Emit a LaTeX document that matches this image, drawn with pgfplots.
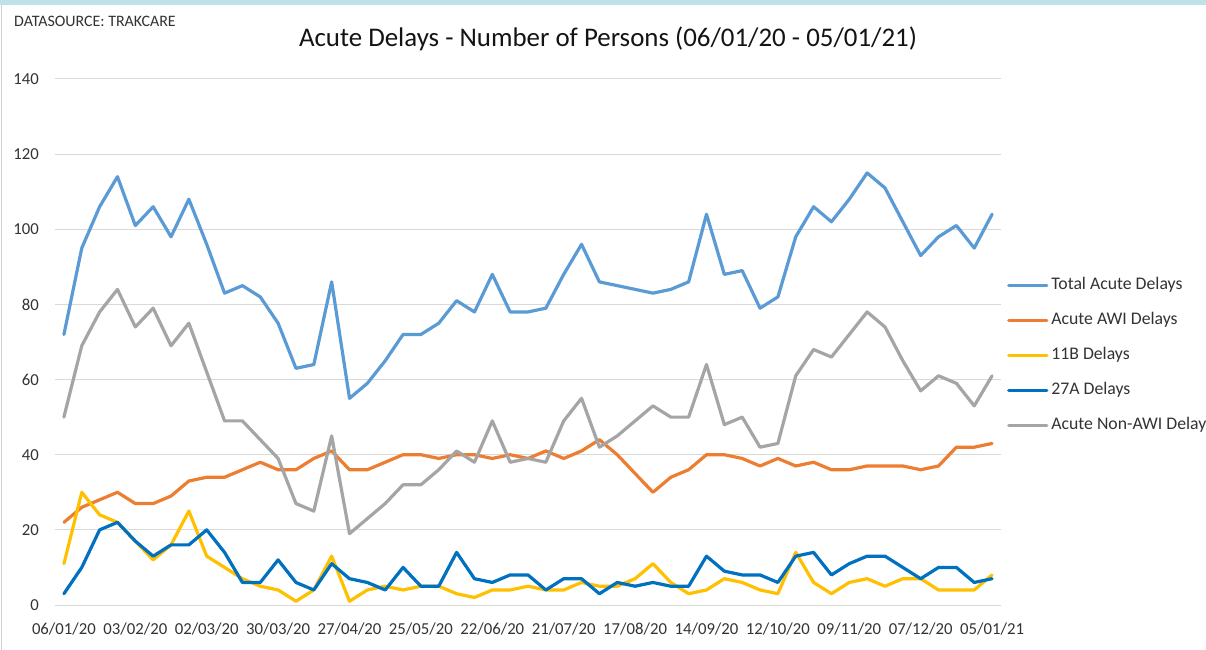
\documentclass[border=0pt]{standalone}
\usepackage{fontspec}
\setmainfont{Carlito}
\usepackage{pgfplots}
\pgfplotsset{compat=1.18}
\usepackage{pgfplotstable}

\definecolor{cTotal}{HTML}{5B9BD5}
\definecolor{cAWI}{HTML}{ED7D31}
\definecolor{cB}{HTML}{FFC000}
\definecolor{cA}{HTML}{0070C0}
\definecolor{cNon}{HTML}{A5A5A5}
\definecolor{gridgray}{HTML}{D9D9D9}
\definecolor{textdark}{HTML}{333333}
\definecolor{topstrip}{HTML}{BFE2E6}
\definecolor{bordergray}{HTML}{D0D0D0}

\pgfplotstableread{
i total awi b11 a27 nonawi
0 72 22 11 3 50
1 95 26 30 10 69
2 106 28 24 20 78
3 114 30 22 22 84
4 101 27 17 17 74
5 106 27 12 13 79
6 98 29 16 16 69
7 108 33 25 16 75
8 96 34 13 20 62
9 83 34 10 14 49
10 85 36 7 6 49
11 82 38 5 6 44
12 75 36 4 12 39
13 63 36 1 6 27
14 64 39 4 4 25
15 86 41 13 11 45
16 55 36 1 7 19
17 59 36 4 6 23
18 65 38 5 4 27
19 72 40 4 10 32
20 72 40 5 5 32
21 75 39 5 5 36
22 81 40 3 14 41
23 78 40 2 7 38
24 88 39 4 6 49
25 78 40 4 8 38
26 78 39 5 8 39
27 79 41 4 4 38
28 88 39 4 7 49
29 96 41 6 7 55
30 86 44 5 3 42
31 85 40 5 6 45
32 84 35 7 5 49
33 83 30 11 6 53
34 84 34 6 5 50
35 86 36 3 5 50
36 104 40 4 13 64
37 88 40 7 9 48
38 89 39 6 8 50
39 79 37 4 8 42
40 82 39 3 6 43
41 98 37 14 13 61
42 106 38 6 14 68
43 102 36 3 8 66
44 108 36 6 11 72
45 115 37 7 13 78
46 111 37 5 13 74
47 102 37 7 10 65
48 93 36 7 7 57
49 98 37 4 10 61
50 101 42 4 10 59
51 95 42 4 6 53
52 104 43 8 7 61
}\datatable

\begin{document}
\begin{tikzpicture}
\useasboundingbox (0bp,0bp) rectangle (1206bp,650bp);
\fill[white] (0bp,0bp) rectangle (1206bp,650bp);
\fill[topstrip] (0bp,645bp) rectangle (1206bp,650bp);
\draw[bordergray, line width=1bp] (1.5bp,0bp) -- (1.5bp,645bp);
\node[anchor=base west, inner sep=0pt, text=textdark, font=\fontsize{16}{19}\selectfont] at (14bp,623bp) {DATASOURCE: TRAKCARE};
\node[anchor=base, inner sep=0pt, text=black!92, font=\fontsize{27}{32}\selectfont] at (608bp,603bp) {Acute Delays - Number of Persons (06/01/20 - 05/01/21)};
\begin{axis}[
  at={(55bp,45bp)}, anchor=south west,
  scale only axis, width=946bp, height=526bp,
  xmin=-0.5, xmax=52.5, ymin=0, ymax=140,
  axis line style={draw=none},
  major tick length=0pt,
  ytick={0,20,...,140},
  xtick={0,4,...,52},
  xticklabels={06/01/20,03/02/20,02/03/20,30/03/20,27/04/20,25/05/20,22/06/20,21/07/20,17/08/20,14/09/20,12/10/20,09/11/20,07/12/20,05/01/21},
  ymajorgrids,
  grid style={gridgray, line width=1bp},
  /pgf/number format/assume math mode=true,
  yticklabel style={font=\fontsize{16.8}{20}\selectfont, text=textdark, anchor=east, inner sep=0pt, xshift=-16bp},
  xticklabel style={font=\fontsize{16.8}{20}\selectfont, text=textdark, anchor=base, inner sep=0pt, yshift=-29bp},
  legend style={at={(rel axis cs:1.0063,0.6255)}, anchor=north west, draw=none, fill=none,
    inner sep=0pt, row sep=17bp, column sep=2bp,
    font=\fontsize{17.8}{21}\selectfont, text=textdark,
    nodes={inner sep=1bp, text height=12bp, text depth=4bp}},
  legend cell align=left,
  legend image code/.code={\draw[#1] (0bp,0bp) -- (38bp,0bp);},
  every axis plot/.append style={line width=3.2bp, line join=round, line cap=round, no markers},
  clip=false,
]
\addplot[cTotal] table[x=i, y=total] {\datatable};
\addlegendentry{Total Acute Delays}
\addplot[cAWI] table[x=i, y=awi] {\datatable};
\addlegendentry{Acute AWI Delays}
\addplot[cB] table[x=i, y=b11] {\datatable};
\addlegendentry{11B Delays}
\addplot[cA] table[x=i, y=a27] {\datatable};
\addlegendentry{27A Delays}
\addplot[cNon] table[x=i, y=nonawi] {\datatable};
\addlegendentry{Acute Non-AWI Delays}
\end{axis}
\end{tikzpicture}
\end{document}
